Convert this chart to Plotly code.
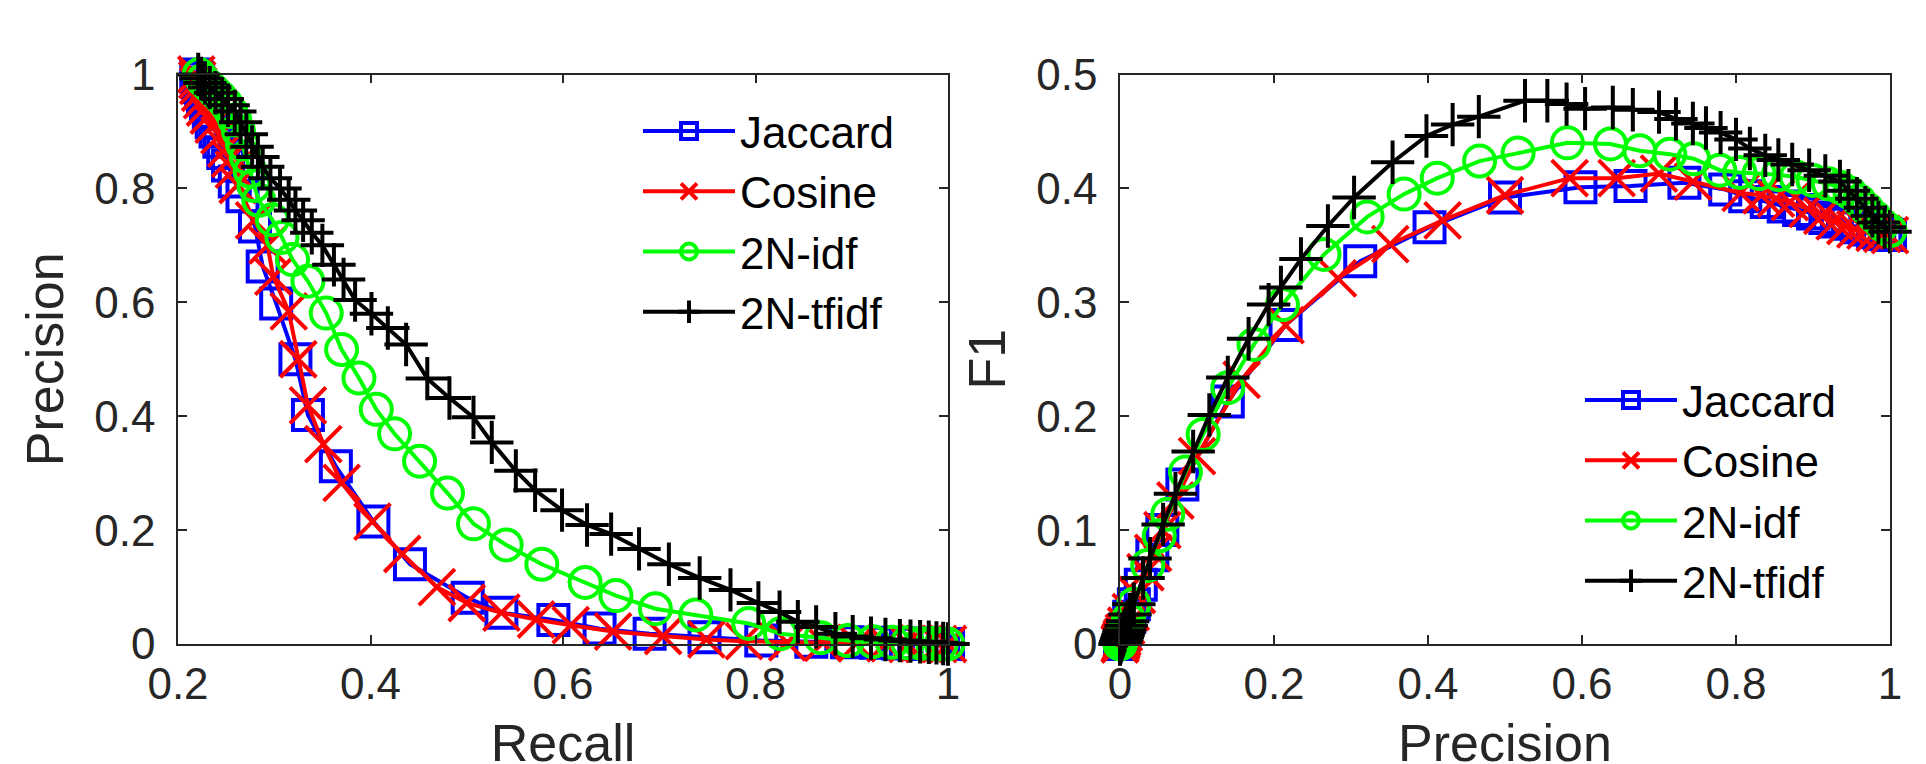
import plotly.graph_objects as go

# ---------------- data ----------------
series_names = ["Jaccard", "Cosine", "2N-idf", "2N-tfidf"]

jac_recall = [0.219, 0.220, 0.221, 0.222, 0.224, 0.226, 0.229, 0.232, 0.235, 0.239,
              0.243, 0.247, 0.252, 0.259, 0.267, 0.280, 0.288, 0.302, 0.322, 0.335,
              0.364, 0.403, 0.441, 0.501, 0.536, 0.590, 0.638, 0.690, 0.747, 0.806,
              0.858, 0.895, 0.925, 0.948, 0.965, 0.978, 0.988, 0.995, 1.000]
jac_precision = [1.000, 0.994, 0.986, 0.978, 0.968, 0.957, 0.945, 0.931, 0.916, 0.900,
                 0.882, 0.862, 0.840, 0.812, 0.786, 0.733, 0.663, 0.598, 0.500, 0.402,
                 0.312, 0.215, 0.140, 0.081, 0.055, 0.042, 0.027, 0.018, 0.012, 0.006,
                 0.004, 0.003, 0.002, 0.001, 0.001, 0.000, 0.000, 0.000, 0.000]
jac_f1 = [0.359, 0.360, 0.361, 0.362, 0.364, 0.366, 0.369, 0.371, 0.374, 0.378,
          0.381, 0.384, 0.388, 0.393, 0.399, 0.405, 0.402, 0.401, 0.392, 0.366,
          0.336, 0.280, 0.213, 0.140, 0.100, 0.078, 0.052, 0.035, 0.024, 0.012,
          0.008, 0.006, 0.004, 0.002, 0.002, 0.000, 0.000, 0.000, 0.000]

cos_recall = [0.219, 0.220, 0.221, 0.223, 0.225, 0.228, 0.232, 0.237, 0.243, 0.250,
              0.254, 0.258, 0.262, 0.279, 0.293, 0.299, 0.315, 0.325, 0.335, 0.351,
              0.370, 0.402, 0.433, 0.469, 0.500, 0.536, 0.572, 0.608, 0.652, 0.704,
              0.749, 0.788, 0.833, 0.870, 0.905, 0.935, 0.958, 0.975, 0.990, 1.000]
cos_precision = [1.000, 0.990, 0.980, 0.968, 0.955, 0.942, 0.928, 0.912, 0.893, 0.870,
                 0.852, 0.833, 0.806, 0.744, 0.700, 0.645, 0.584, 0.500, 0.419, 0.351,
                 0.283, 0.215, 0.158, 0.100, 0.072, 0.055, 0.043, 0.033, 0.022, 0.014,
                 0.008, 0.005, 0.003, 0.002, 0.001, 0.001, 0.000, 0.000, 0.000, 0.000]
cos_f1 = [0.359, 0.360, 0.361, 0.363, 0.364, 0.367, 0.371, 0.376, 0.382, 0.388,
          0.391, 0.394, 0.396, 0.406, 0.413, 0.409, 0.409, 0.394, 0.372, 0.351,
          0.321, 0.280, 0.232, 0.165, 0.126, 0.100, 0.080, 0.063, 0.043, 0.028,
          0.016, 0.010, 0.006, 0.004, 0.002, 0.002, 0.000, 0.000, 0.000, 0.000]

idf_recall = [0.222, 0.226, 0.232, 0.238, 0.244, 0.250, 0.255, 0.259, 0.263, 0.267,
              0.271, 0.275, 0.279, 0.284, 0.298, 0.308, 0.319, 0.335, 0.354, 0.370,
              0.388, 0.406, 0.425, 0.451, 0.480, 0.507, 0.541, 0.578, 0.623, 0.655,
              0.696, 0.738, 0.793, 0.826, 0.868, 0.896, 0.922, 0.942, 0.958, 0.972,
              0.984, 0.993, 1.000]
idf_precision = [1.000, 0.990, 0.980, 0.970, 0.960, 0.948, 0.935, 0.920, 0.900, 0.878,
                 0.855, 0.830, 0.805, 0.779, 0.745, 0.714, 0.675, 0.637, 0.581, 0.517,
                 0.467, 0.412, 0.369, 0.321, 0.265, 0.211, 0.174, 0.140, 0.108, 0.085,
                 0.062, 0.051, 0.036, 0.018, 0.011, 0.006, 0.004, 0.003, 0.002, 0.001,
                 0.001, 0.000, 0.000]
idf_f1 = [0.363, 0.368, 0.375, 0.382, 0.389, 0.396, 0.401, 0.404, 0.407, 0.410,
          0.412, 0.413, 0.414, 0.416, 0.426, 0.430, 0.433, 0.439, 0.440, 0.431,
          0.424, 0.409, 0.395, 0.375, 0.342, 0.298, 0.263, 0.225, 0.184, 0.151,
          0.114, 0.095, 0.069, 0.035, 0.022, 0.012, 0.008, 0.006, 0.004, 0.002,
          0.002, 0.000, 0.000]

tfidf_recall = [0.221, 0.224, 0.228, 0.233, 0.239, 0.246, 0.252, 0.259, 0.265, 0.271,
                0.277, 0.283, 0.288, 0.296, 0.306, 0.315, 0.322, 0.330, 0.339, 0.350,
                0.362, 0.372, 0.384, 0.401, 0.418, 0.437, 0.459, 0.482, 0.507, 0.526,
                0.551, 0.571, 0.599, 0.625, 0.650, 0.679, 0.710, 0.742, 0.774, 0.803,
                0.825, 0.844, 0.863, 0.883, 0.901, 0.920, 0.935, 0.950, 0.961, 0.971,
                0.980, 0.988, 0.995, 1.000]
tfidf_precision = [1.000, 0.993, 0.985, 0.977, 0.968, 0.957, 0.946, 0.935, 0.916, 0.895,
                   0.873, 0.855, 0.838, 0.818, 0.800, 0.780, 0.761, 0.744, 0.722, 0.700,
                   0.666, 0.640, 0.604, 0.580, 0.555, 0.526, 0.466, 0.432, 0.398, 0.354,
                   0.304, 0.270, 0.235, 0.209, 0.193, 0.167, 0.140, 0.116, 0.095, 0.072,
                   0.056, 0.039, 0.030, 0.018, 0.013, 0.010, 0.008, 0.006, 0.005, 0.004,
                   0.003, 0.002, 0.001, 0.000]
tfidf_f1 = [0.362, 0.366, 0.370, 0.376, 0.383, 0.391, 0.398, 0.406, 0.411, 0.416,
            0.421, 0.425, 0.429, 0.435, 0.443, 0.449, 0.453, 0.457, 0.461, 0.467,
            0.469, 0.471, 0.470, 0.474, 0.477, 0.477, 0.463, 0.456, 0.446, 0.423,
            0.392, 0.367, 0.338, 0.313, 0.298, 0.268, 0.234, 0.201, 0.169, 0.132,
            0.105, 0.075, 0.058, 0.035, 0.026, 0.020, 0.016, 0.012, 0.010, 0.008,
            0.006, 0.004, 0.002, 0.000]

recall_ticks = [0.2, 0.4, 0.6, 0.8, 1.0]
recall_ticktext = ["0.2", "0.4", "0.6", "0.8", "1"]
precision_ticks = [0.0, 0.2, 0.4, 0.6, 0.8, 1.0]
precision_ticktext = ["0", "0.2", "0.4", "0.6", "0.8", "1"]
f1_ticks = [0.0, 0.1, 0.2, 0.3, 0.4, 0.5]
f1_ticktext = ["0", "0.1", "0.2", "0.3", "0.4", "0.5"]

# ---------------- styles ----------------
FONT = "Liberation Sans, Arial, sans-serif"
AXC = "#262626"
colors = ["#0000FF", "#FF0000", "#00FF00", "#000000"]
symbols = ["square-open", "x-thin-open", "circle-open", "cross-thin-open"]
msizes = [30, 36, 31, 31]
LW = 4

left_data = [(jac_recall, jac_precision), (cos_recall, cos_precision),
             (idf_recall, idf_precision), (tfidf_recall, tfidf_precision)]
right_data = [(jac_precision, jac_f1), (cos_precision, cos_f1),
              (idf_precision, idf_f1), (tfidf_precision, tfidf_f1)]

fig = go.Figure()
for i, name in enumerate(series_names):
    mk = dict(symbol=symbols[i], size=msizes[i], color=colors[i],
              line=dict(color=colors[i], width=LW))
    fig.add_trace(go.Scatter(x=left_data[i][0], y=left_data[i][1], name=name,
                             mode="lines+markers", line=dict(color=colors[i], width=LW),
                             marker=mk, cliponaxis=False, xaxis="x", yaxis="y",
                             legend="legend"))
for i, name in enumerate(series_names):
    mk = dict(symbol=symbols[i], size=msizes[i], color=colors[i],
              line=dict(color=colors[i], width=LW))
    fig.add_trace(go.Scatter(x=right_data[i][0], y=right_data[i][1], name=name,
                             mode="lines+markers", line=dict(color=colors[i], width=LW),
                             marker=mk, cliponaxis=False, xaxis="x2", yaxis="y2",
                             legend="legend2"))

W, H = 1926, 764
ydom = [1 - 636 / H, 1 - 66.5 / H]
axis_common = dict(showline=True, mirror="ticks", linecolor=AXC, linewidth=1.5,
                   ticks="inside", ticklen=9, tickwidth=1.5, tickcolor=AXC,
                   showgrid=False, zeroline=False, automargin=False,
                   tickfont=dict(family=FONT, size=44, color=AXC))
title_font = dict(family=FONT, size=52, color=AXC)

fig.update_layout(
    template="none",
    width=W, height=H,
    paper_bgcolor="white", plot_bgcolor="white",
    margin=dict(l=0, r=0, t=0, b=0, pad=0, autoexpand=False),
    xaxis=dict(domain=[170 / W, 940 / W], range=[0.2, 1.0], anchor="y",
               tickvals=recall_ticks, ticktext=recall_ticktext,
               title=dict(text="Recall", font=title_font, standoff=30),
               ticklabelstandoff=0, **axis_common),
    yaxis=dict(domain=ydom, range=[0, 1.0], anchor="x",
               tickvals=precision_ticks, ticktext=precision_ticktext,
               title=dict(text="Precision", font=title_font, standoff=14),
               ticklabelstandoff=12, **axis_common),
    xaxis2=dict(domain=[1112 / W, 1882 / W], range=[0, 1.0], anchor="y2",
                tickvals=precision_ticks, ticktext=precision_ticktext,
                title=dict(text="Precision", font=title_font, standoff=30),
                ticklabelstandoff=0, **axis_common),
    yaxis2=dict(domain=ydom, range=[0, 0.5], anchor="x2",
                tickvals=f1_ticks, ticktext=f1_ticktext,
                title=dict(text="F1", font=title_font, standoff=14),
                ticklabelstandoff=12, **axis_common),
    legend=dict(x=630 / W, y=1 - 88 / H, xanchor="left", yanchor="top",
                bgcolor="rgba(0,0,0,0)", borderwidth=0, itemwidth=92,
                font=dict(family=FONT, size=44, color="#000000")),
    legend2=dict(x=1572 / W, y=1 - 357 / H, xanchor="left", yanchor="top",
                 bgcolor="rgba(0,0,0,0)", borderwidth=0, itemwidth=92,
                 font=dict(family=FONT, size=44, color="#000000")),
)

fig.write_html("out.html", config={"displayModeBar": False})
